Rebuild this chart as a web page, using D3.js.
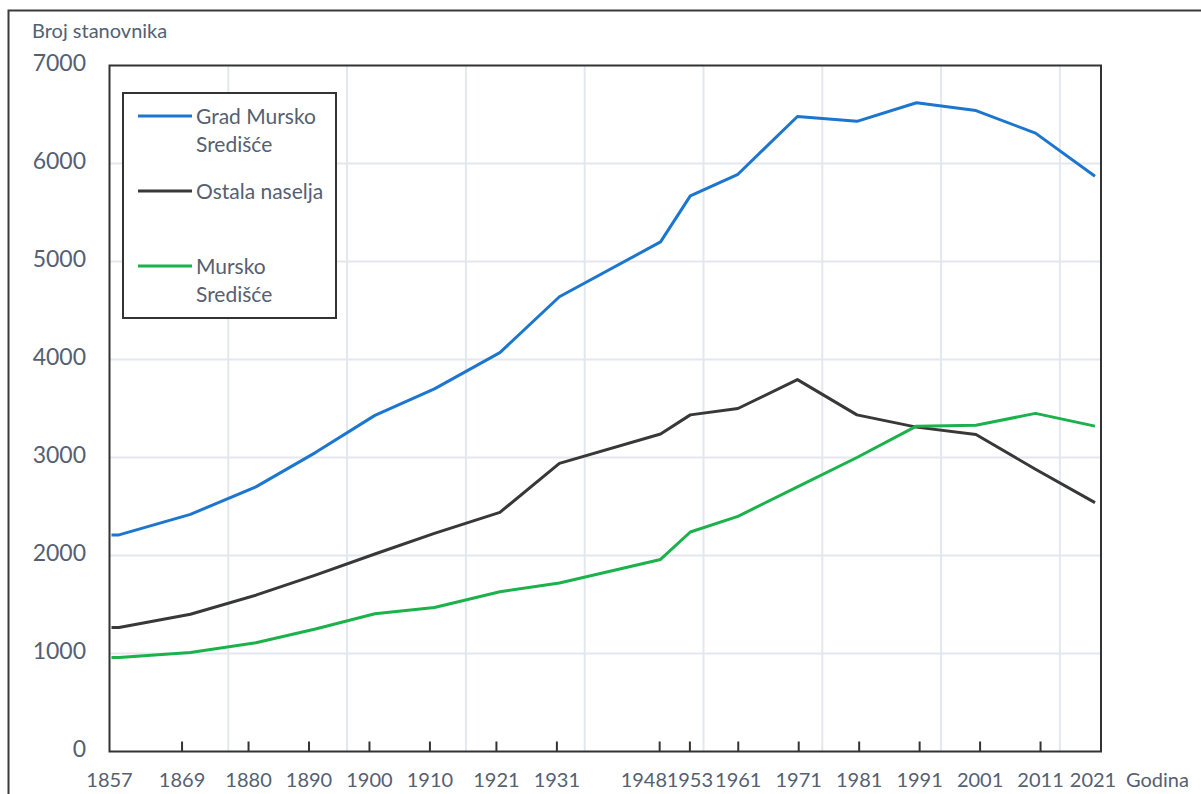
<!DOCTYPE html>
<html>
<head>
<meta charset="utf-8">
<script src="https://cdn.jsdelivr.net/npm/d3@7"></script>
<style>
  body { margin: 0; background: #fff; }
  svg text { font-family: Lato, "Open Sans", sans-serif; fill: #556072; }
</style>
</head>
<body>
<script>
// census years
var years = [1857, 1869, 1880, 1890, 1900, 1910, 1921, 1931, 1948, 1953, 1961, 1971, 1981, 1991, 2001, 2011, 2021];

// population per series
var gradValues   = [2210, 2420, 2700, 3050, 3430, 3700, 4070, 4640, 5200, 5670, 5890, 6480, 6430, 6620, 6540, 6310, 5870];
var ostalaValues = [1265, 1400, 1595, 1800, 2015, 2225, 2440, 2940, 3240, 3435, 3500, 3795, 3435, 3310, 3235, 2880, 2540];
var murskoValues = [960, 1010, 1110, 1250, 1405, 1470, 1630, 1720, 1960, 2240, 2400, 2700, 3000, 3320, 3330, 3450, 3320];

var yTicks = [0, 1000, 2000, 3000, 4000, 5000, 6000, 7000];
var seriesNames = [["Grad Mursko", "Središće"], ["Ostala naselja"], ["Mursko", "Središće"]];
var seriesColors = ["#1c76cf", "#383838", "#1bb24b"];
var yTitle = "Broj stanovnika";
var xTitle = "Godina";

var W = 1201, H = 794;
var plot = {left: 109.5, right: 1101, top: 65.5, bottom: 751.5};

var svg = d3.select("body").append("svg")
    .attr("width", W)
    .attr("height", H);

// outer frame (runs off the right and bottom edge)
svg.append("rect")
    .attr("x", 8.5).attr("y", 10.5)
    .attr("width", 1300).attr("height", 900)
    .attr("fill", "none")
    .attr("stroke", "#3a3a3a")
    .attr("stroke-width", 2);

// scales: axis ticks and data points sit slightly apart in the original
var xTick = d3.scaleLinear().domain([1857, 2021]).range([plot.left, plot.right]);
var xData = d3.scaleLinear().domain([1857, 2021]).range([119, 1095]);
var y = d3.scaleLinear().domain([0, 7000]).range([plot.bottom, plot.top]);

// gridlines
var grid = svg.append("g").attr("stroke", "#e3e7ee").attr("stroke-width", 2);
grid.selectAll(".hgrid")
    .data(yTicks.slice(1, -1))
    .enter().append("line")
    .attr("x1", plot.left).attr("x2", plot.right)
    .attr("y1", function (d) { return y(d); })
    .attr("y2", function (d) { return y(d); });

grid.selectAll(".vgrid")
    .data(d3.range(1857 + 19.65, 2021, 19.65))
    .enter().append("line")
    .attr("y1", plot.top).attr("y2", plot.bottom)
    .attr("x1", function (d) { return xTick(d); })
    .attr("x2", function (d) { return xTick(d); });

// plot frame
svg.append("rect")
    .attr("x", plot.left).attr("y", plot.top)
    .attr("width", plot.right - plot.left)
    .attr("height", plot.bottom - plot.top)
    .attr("fill", "none")
    .attr("stroke", "#333")
    .attr("stroke-width", 2);

// inward tick marks on the x axis
svg.append("g")
    .selectAll("line")
    .data(years.slice(1, -1))
    .enter().append("line")
    .attr("x1", function (d) { return xTick(d); })
    .attr("x2", function (d) { return xTick(d); })
    .attr("y1", plot.bottom)
    .attr("y2", plot.bottom - 10)
    .attr("stroke", "#333")
    .attr("stroke-width", 2);

// x tick labels, pushed left when they would overlap the next one
var labelW = 46;
var titleX = 1126;
var labelX = years.map(function (d) { return xTick(d); });
labelX[labelX.length - 1] = Math.min(labelX[labelX.length - 1], titleX - 10 - labelW / 2);
for (var i = labelX.length - 2; i >= 0; i--) {
    if (labelX[i] + labelW / 2 > labelX[i + 1] - labelW / 2) {
        labelX[i] = labelX[i + 1] - labelW;
    }
}
svg.append("g")
    .selectAll("text")
    .data(years)
    .enter().append("text")
    .attr("x", function (d, i) { return labelX[i]; })
    .attr("y", 787)
    .attr("text-anchor", "middle")
    .style("font-size", "20px")
    .text(function (d) { return d; });

svg.append("text")
    .attr("x", titleX).attr("y", 787)
    .style("font-size", "20px")
    .text(xTitle);

// y labels
svg.append("g")
    .selectAll("text")
    .data(yTicks)
    .enter().append("text")
    .attr("x", 86)
    .attr("y", function (d) { return y(d) + 5; })
    .attr("text-anchor", "end")
    .style("font-size", "23px")
    .text(function (d) { return d; });

svg.append("text")
    .attr("x", 32).attr("y", 38)
    .style("font-size", "20px")
    .text(yTitle);

// lines
var series = [gradValues, ostalaValues, murskoValues];
var line = d3.line();

series.forEach(function (vals, s) {
    var pts = [[xTick(years[0]) + 2, y(vals[0])]];
    years.forEach(function (yr, i) {
        pts.push([xData(yr), y(vals[i])]);
    });
    svg.append("path")
        .attr("d", line(pts))
        .attr("fill", "none")
        .attr("stroke", seriesColors[s])
        .attr("stroke-width", 3)
        .attr("stroke-linejoin", "round");
});

// legend
var legend = svg.append("g");
legend.append("rect")
    .attr("x", 123).attr("y", 93)
    .attr("width", 213).attr("height", 225)
    .attr("fill", "#fff")
    .attr("stroke", "#333")
    .attr("stroke-width", 2);

seriesNames.forEach(function (names, s) {
    var ly = 116 + s * 75;
    legend.append("line")
        .attr("x1", 138).attr("x2", 192)
        .attr("y1", ly).attr("y2", ly)
        .attr("stroke", seriesColors[s])
        .attr("stroke-width", 3);
    names.forEach(function (t, k) {
        legend.append("text")
            .attr("x", 196)
            .attr("y", ly + 8 + k * 28)
            .style("font-size", "21px")
            .text(t);
    });
});
</script>
</body>
</html>
